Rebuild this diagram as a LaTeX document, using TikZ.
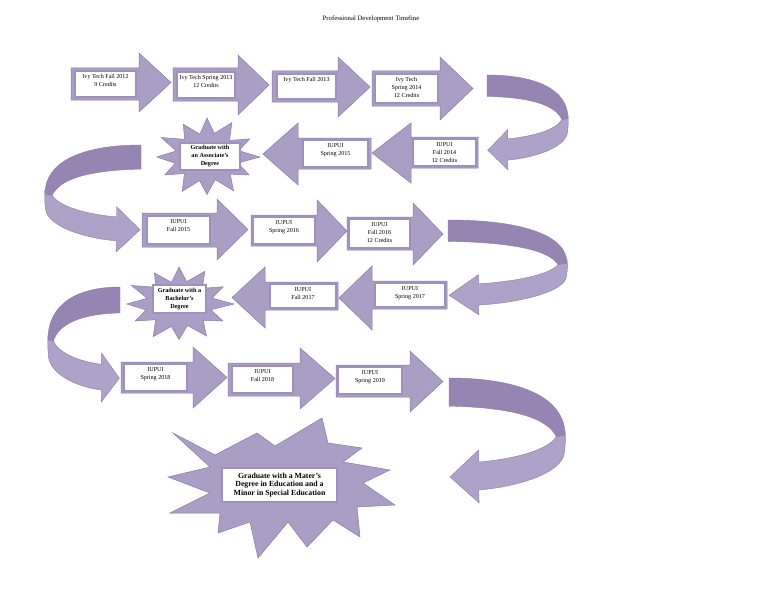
\documentclass[tikz,border=0pt]{standalone}
\usepackage{fontspec}
\setmainfont{Liberation Serif}
\definecolor{arrfill}{RGB}{170,158,196}
\definecolor{arrline}{RGB}{138,122,170}
\definecolor{banddark}{RGB}{150,133,178}
\definecolor{bandlight}{RGB}{174,162,200}
\definecolor{boxline}{RGB}{158,145,190}
\tikzset{
  arrshape/.style={fill=arrfill, draw=arrline, line width=0.5pt, line join=miter},
  banddk/.style={fill=banddark, draw=arrline, line width=0.4pt},
  bandlt/.style={fill=bandlight, draw=arrline, line width=0.4pt, line join=miter},
  tbox/.style={draw=boxline, fill=white, line width=1.3pt, inner sep=0pt},
  ttext/.style={font=\fontsize{6.1}{8}\selectfont, align=center, inner sep=0pt, anchor=north},
  stext/.style={font=\fontsize{6.2}{8}\selectfont\bfseries, align=center, inner sep=0pt},
  ftext/.style={font=\fontsize{7.8}{8.6}\selectfont\bfseries, align=center, inner sep=0pt},
}
% block arrow: x-start, shaft top, shaft bottom, head base x, head top, head bottom, tip x
\newcommand\BlockArrow[7]{%
  \draw[arrshape] (#1,#2) -- (#4,#2) -- (#4,#5) -- (#7,{(#5+#6)/2}) -- (#4,#6) -- (#4,#3) -- (#1,#3) -- cycle;}
% text box: name, x1, y1, x2, y2, text
\newcommand\TBox[6]{%
  \node[tbox, minimum width=#4pt-#2pt, minimum height=#5pt-#3pt] (#1) at ({(#2+#4)/2},{(#3+#5)/2}) {};
  \node[ttext] (#1t) at ([yshift=-3.5pt]#1.north) {#6};}
% U-turn ribbon arrow: start x, start top y, width (negative = mirrored), height
\newcommand\UArrow[4]{%
  \begin{scope}[shift={(#1,#2)}, x={(#3pt,0pt)}, y={(0pt,-#4pt)}]
    \draw[bandlt] (0.925,0.47) -- (1,0.42) .. controls (1.005,0.5) .. (0.995,0.6)
      .. controls (0.97,0.76) and (0.6,0.87) .. (0.255,0.896)
      -- (0.26,1) -- (0.009,0.792) -- (0.255,0.576) -- (0.255,0.672)
      .. controls (0.55,0.65) and (0.85,0.58) .. (0.925,0.47) -- cycle;
    \draw[banddk] (0,0) .. controls (0.6,0) and (1,0.15) .. (1,0.456) -- (0.925,0.47)
      .. controls (0.85,0.32) and (0.55,0.235) .. (0,0.225) -- cycle;
  \end{scope}}
% starburst: centre x, centre y, x radius, y radius
\newcommand\Burst[4]{%
  \begin{scope}[shift={(#1,#2)}, x={(#3pt,0pt)}, y={(0pt,#4pt)}]
    \draw[arrshape] (90:1) -- (103:0.6) -- (118:0.95) -- (133:0.62) -- (150:1) -- (165:0.6)
      -- (180:0.95) -- (195:0.62) -- (210:0.92) -- (225:0.6) -- (242:1) -- (257:0.62)
      -- (270:0.96) -- (285:0.6) -- (300:1) -- (315:0.62) -- (330:0.92) -- (345:0.6)
      -- (0:1) -- (15:0.62) -- (30:0.93) -- (45:0.6) -- (62:1) -- (77:0.62) -- cycle;
  \end{scope}}
\begin{document}
\begin{tikzpicture}[x=1pt,y=-1pt]
\useasboundingbox (0,0) rectangle (768,594);
\node (title) at (371,19) {\fontsize{6.7}{8}\selectfont Professional Development Timeline};

% U-turn arrows
\UArrow{487}{75}{81}{95}
\UArrow{141}{145}{-96}{107}
\UArrow{448}{220}{119}{95}
\UArrow{120}{287}{-72}{115}
\UArrow{449}{378}{116}{125}

% row 1
\BlockArrow{71}{68}{100}{139}{53}{112}{171}
\BlockArrow{173}{68}{101}{238}{55}{115}{269}
\BlockArrow{272}{71}{102}{338}{57}{117}{370}
\BlockArrow{372}{71}{106}{440}{57}{120}{473}
\TBox{b1}{75}{71}{136}{97}{Ivy Tech Fall 2012\\9 Credits}
\TBox{b2}{177}{72}{235}{98}{Ivy Tech Spring 2013\\12 Credits}
\TBox{b3}{277}{74}{336}{99}{Ivy Tech Fall 2013}
\TBox{b4}{375}{74}{438}{103}{Ivy Tech\\Spring 2014\\12 Credits}

% row 2
\BlockArrow{478}{137}{168}{411}{123}{183}{372}
\BlockArrow{371}{138}{169}{298}{123}{185}{263}
\TBox{b5}{413}{139}{476}{166}{IUPUI\\Fall 2014\\12 Credits}
\TBox{b6}{303}{140}{368}{167}{IUPUI\\Spring 2015}
\Burst{207}{157}{53}{39}
\node[tbox, minimum width=60pt, minimum height=27pt] (s1) at (210,156.5) {};
\node[stext] (s1t) at (s1) {Graduate with\\an Associate's\\Degree};

% row 3
\BlockArrow{142}{213}{247}{217}{199}{260}{248}
\BlockArrow{251}{215}{246}{317}{200}{262}{347}
\BlockArrow{347}{217}{250}{413}{203}{265}{443}
\TBox{b7}{147}{216}{210}{244}{IUPUI\\Fall 2015}
\TBox{b8}{253}{217}{315}{244}{IUPUI\\Spring 2016}
\TBox{b9}{349}{219}{410}{248}{IUPUI\\Fall 2016\\12 Credits}

% row 4
\BlockArrow{447}{281}{309}{372}{266}{330}{339}
\BlockArrow{338}{282}{310}{265}{267}{328}{232}
\TBox{b10}{375}{283}{445}{307}{IUPUI\\Spring 2017}
\TBox{b11}{270}{284}{336}{308}{IUPUI\\Fall 2017}
\Burst{179}{304}{55}{37}
\node[tbox, minimum width=53pt, minimum height=28pt] (s2) at (179.5,299) {};
\node[stext] (s2t) at (s2) {Graduate with a\\Bachelor's\\Degree};

% row 5
\BlockArrow{121}{362}{393}{193}{347}{408}{227}
\BlockArrow{228}{363}{396}{300}{348}{409}{335}
\BlockArrow{336}{365}{397}{410}{351}{412}{443}
\TBox{b12}{124}{364}{187}{391}{IUPUI\\Spring 2018}
\TBox{b13}{232}{366}{293}{393}{IUPUI\\Fall 2018}
\TBox{b14}{338}{367}{402}{394}{IUPUI\\Spring 2019}

% final starburst
\draw[arrshape] (173,433) -- (215,455) -- (257,433) -- (275,446) -- (322,418) -- (328,443)
  -- (362,448) -- (343,462) -- (390,470) -- (363,483) -- (395,505) -- (357,507)
  -- (360,537) -- (333,520) -- (307,547) -- (288,522) -- (258,558) -- (250,522)
  -- (218,533) -- (220,513) -- (170,513) -- (210,493) -- (168,477) -- (210,467) -- cycle;
\node[tbox, minimum width=115pt, minimum height=34pt] (s3) at (279.5,485) {};
\node[ftext] (s3t) at (s3) {Graduate with a Mater's\\Degree in Education and a\\Minor in Special Education};
\end{tikzpicture}
\end{document}
